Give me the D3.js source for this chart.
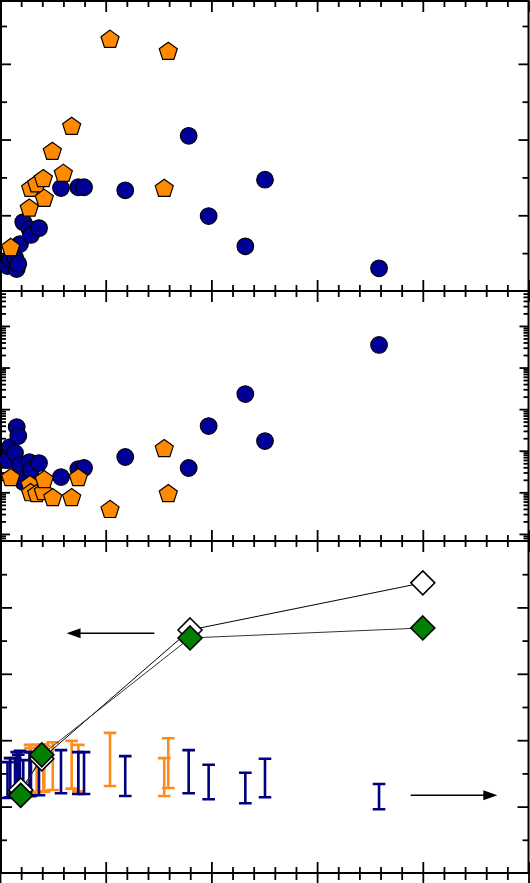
<!DOCTYPE html>
<html>
<head>
<meta charset="utf-8">
<script src="https://cdn.jsdelivr.net/npm/d3@7"></script>
<style>
  html, body { margin: 0; padding: 0; background: #fff; }
  svg { display: block; }
</style>
</head>
<body>
<div id="chart"></div>
<script>
// values (x shared by all panels)
const circleX    = [0.71, 0.95, 1.42, 1.58, 1.73, 1.89, 2.20, 2.79, 2.93, 3.69, 5.77, 7.41, 7.95, 11.85, 17.85, 19.74, 23.21, 25.07, 35.86];
const circleTop  = [3.3, 4.2, 4.4, 2.9, 3.6, 6.2, 9.1, 8.2, 7.4, 8.3, 13.6, 13.7, 13.7, 13.3, 20.5, 9.9, 5.9, 14.7, 3.0];
const circleMid  = [59.7, 122.7, 88.1, 371, 225.6, 45.3, 17.7, 53.5, 34.4, 50.6, 23.3, 36.3, 38.4, 70.6, 38.4, 392.6, 2307, 171, 34900];
const navyLow    = [1.13, 1.14, 1.16, 1.17, 1.14, 1.17, 1.13, 1.16, 1.16, 1.17, 1.20, 1.19, 1.19, 1.16, 1.20, 1.11, 1.05, 1.14, 0.96];
const navyHigh   = [1.67, 1.73, 1.73, 1.82, 1.78, 1.84, 1.70, 1.82, 1.82, 1.81, 1.85, 1.82, 1.82, 1.76, 1.85, 1.63, 1.51, 1.72, 1.34];

const pentTopX   = [1.01, 2.77, 2.90, 3.47, 4.10, 4.19, 4.95, 5.99, 6.78, 10.41, 15.54, 15.92];
const pentTopY   = [5.7, 10.9, 13.5, 14.1, 14.8, 12.2, 18.4, 15.5, 21.7, 33.2, 13.5, 31.6];
const pentMidX   = [1.01, 2.84, 2.90, 3.47, 4.10, 4.19, 4.99, 6.78, 7.41, 10.41, 15.54, 15.92];
const pentMidY   = [22.1, 15.0, 9.6, 9.1, 10.2, 19.8, 7.3, 7.3, 22.1, 3.8, 109.9, 9.1];
const orangeLow  = [1.14, 1.22, 1.20, 1.22, 1.22, 1.23, 1.25, 1.27, 1.23, 1.31, 1.16, 1.28];
const orangeHigh = [1.73, 1.93, 1.88, 1.93, 1.94, 1.91, 1.97, 1.99, 1.93, 2.11, 1.73, 2.03];

const diamondX     = [1.96, 3.95, 17.98, 40.0];
const openDiamondY = [1.25, 1.72, 3.66, 4.37];
const fullDiamondY = [1.17, 1.78, 3.54, 3.69];

// arrows pointing to the axis each series belongs to
const arrowFrom = [14.6, 38.85];
const arrowTo   = [6.3, 47.05];
const arrowY    = [3.61, 1.17];

const width = 530, height = 883;
const left = 1, right = 528.5;

const svg = d3.select("#chart")
  .append("svg")
  .attr("width", width)
  .attr("height", height);

const x = d3.scaleLinear().domain([0, 50]).range([0, 528.5]);

// three stacked panels, sharing their boundaries
const y1 = d3.scaleLinear().domain([0, 38.3]).range([291, 1]);
const y2 = d3.scaleLog().domain([Math.pow(10, -0.17), Math.pow(10, 5.84)]).range([541, 291]);
const y3 = d3.scaleLinear().domain([0, 5]).range([873, 541]);

const xMajor = d3.range(0, 51, 10);
const xMinor = d3.range(0, 51, 2).filter(v => v % 10 !== 0);

// log minor ticks for the middle panel
let logMajor = [], logMinor = [];
for (let n = -1; n <= 6; n++) {
  const p = Math.pow(10, n);
  if (p >= y2.domain()[0] && p <= y2.domain()[1]) logMajor.push(p);
  for (let k = 2; k <= 9; k++) {
    const v = k * p;
    if (v >= y2.domain()[0] && v <= y2.domain()[1]) logMinor.push(v);
  }
}

function tickStyle(g) {
  g.select(".domain").remove();
  g.selectAll("line").attr("stroke", "#000").attr("stroke-width", 1.8);
  g.selectAll("text").remove();
}

// draws inward ticks on all four sides of a panel
function drawAxes(y, top, bottom, yMajor, yMinor, yMajorLen, yMinorLen) {
  const g = svg.append("g");
  [[xMajor, 11], [xMinor, 6]].forEach(([vals, len]) => {
    g.append("g").attr("transform", `translate(0,${top})`)
      .call(d3.axisTop(x).tickValues(vals).tickSize(-len)).call(tickStyle);
    g.append("g").attr("transform", `translate(0,${bottom})`)
      .call(d3.axisBottom(x).tickValues(vals).tickSize(-len)).call(tickStyle);
  });
  [[yMajor, yMajorLen], [yMinor, yMinorLen]].forEach(([vals, len]) => {
    g.append("g").attr("transform", `translate(${left},0)`)
      .call(d3.axisLeft(y).tickValues(vals).tickSize(-len)).call(tickStyle);
    g.append("g").attr("transform", `translate(${right},0)`)
      .call(d3.axisRight(y).tickValues(vals).tickSize(-len)).call(tickStyle);
  });
  g.append("rect")
    .attr("x", left).attr("y", top)
    .attr("width", right - left).attr("height", bottom - top)
    .attr("fill", "none").attr("stroke", "#000").attr("stroke-width", 2);
}

drawAxes(y1, 1, 291, [10, 20, 30], [5, 15, 25, 35], 10, 6);
drawAxes(y2, 291, 541, logMajor, logMinor, 9, 5);
drawAxes(y3, 541, 873, [1, 2, 3, 4], [0.5, 1.5, 2.5, 3.5, 4.5], 11, 6);

// top of the panel below (cropped): ticks pointing down
[[xMajor, 11], [xMinor, 7]].forEach(([vals, len]) => {
  svg.append("g").attr("transform", "translate(0,873)")
    .call(d3.axisTop(x).tickValues(vals).tickSize(-len)).call(tickStyle);
});

// pentagon path centred at 0,0
function pentagon(r) {
  const pts = d3.range(5).map(i => {
    const a = -Math.PI / 2 + i * 2 * Math.PI / 5;
    return [r * Math.cos(a), r * Math.sin(a)];
  });
  return "M" + pts.map(p => p.join(",")).join("L") + "Z";
}
function diamond(r) {
  return `M0,${-r}L${r},0L0,${r}L${-r},0Z`;
}

const navy = "#000099", orange = "#ff8a00";

// panel 1: circles, then pentagons on top
svg.append("g").selectAll("circle")
  .data(circleX)
  .join("circle")
    .attr("cx", d => x(d))
    .attr("cy", (d, i) => y1(circleTop[i]))
    .attr("r", 8.3)
    .attr("fill", navy).attr("stroke", "#000").attr("stroke-width", 1.2);

svg.append("g").selectAll("path")
  .data(pentTopX)
  .join("path")
    .attr("d", pentagon(9.5))
    .attr("transform", (d, i) => `translate(${x(d)},${y1(pentTopY[i])})`)
    .attr("fill", orange).attr("stroke", "#000").attr("stroke-width", 1.2);

// panel 2: same points on the log axis
svg.append("g").selectAll("circle")
  .data(circleX)
  .join("circle")
    .attr("cx", d => x(d))
    .attr("cy", (d, i) => y2(circleMid[i]))
    .attr("r", 8.3)
    .attr("fill", navy).attr("stroke", "#000").attr("stroke-width", 1.2);

svg.append("g").selectAll("path")
  .data(pentMidX)
  .join("path")
    .attr("d", pentagon(9.5))
    .attr("transform", (d, i) => `translate(${x(d)},${y2(pentMidY[i])})`)
    .attr("fill", orange).attr("stroke", "#000").attr("stroke-width", 1.2);

// panel 3: error bars (orange under navy)
function errorBars(xs, lows, highs, color) {
  const g = svg.append("g").attr("stroke", color).attr("stroke-width", 2.6).attr("fill", "none");
  xs.forEach((d, i) => {
    const cx = x(d), lo = y3(lows[i]), hi = y3(highs[i]);
    g.append("path")
      .attr("d", `M${cx},${lo}L${cx},${hi}M${cx - 6.3},${lo}L${cx + 6.3},${lo}M${cx - 6.3},${hi}L${cx + 6.3},${hi}`);
  });
}
errorBars(pentMidX, orangeLow, orangeHigh, "#ff8c1a");
errorBars(circleX, navyLow, navyHigh, "#000080");

// connecting lines for the diamonds
const line = d3.line();
svg.append("path")
  .attr("d", line(diamondX.map((d, i) => [x(d), y3(openDiamondY[i])])))
  .attr("fill", "none").attr("stroke", "#000").attr("stroke-width", 1);
svg.append("path")
  .attr("d", line(diamondX.map((d, i) => [x(d), y3(fullDiamondY[i])])))
  .attr("fill", "none").attr("stroke", "#333").attr("stroke-width", 1);

svg.append("g").selectAll("path")
  .data(diamondX)
  .join("path")
    .attr("d", diamond(12))
    .attr("transform", (d, i) => `translate(${x(d)},${y3(openDiamondY[i])})`)
    .attr("fill", "#fff").attr("stroke", "#000").attr("stroke-width", 1.6);

svg.append("g").selectAll("path")
  .data(diamondX)
  .join("path")
    .attr("d", diamond(12))
    .attr("transform", (d, i) => `translate(${x(d)},${y3(fullDiamondY[i])})`)
    .attr("fill", "#008000").attr("stroke", "#000").attr("stroke-width", 1.6);

// arrows
arrowFrom.forEach((d, i) => {
  const x0 = x(d), x1 = x(arrowTo[i]), yy = y3(arrowY[i]);
  const dir = x1 > x0 ? 1 : -1;
  svg.append("line")
    .attr("x1", x0).attr("x2", x1 - dir * 12)
    .attr("y1", yy).attr("y2", yy)
    .attr("stroke", "#000").attr("stroke-width", 1.5);
  svg.append("path")
    .attr("d", `M${x1},${yy}L${x1 - dir * 14},${yy - 5}L${x1 - dir * 14},${yy + 5}Z`)
    .attr("fill", "#000");
});
</script>
</body>
</html>
